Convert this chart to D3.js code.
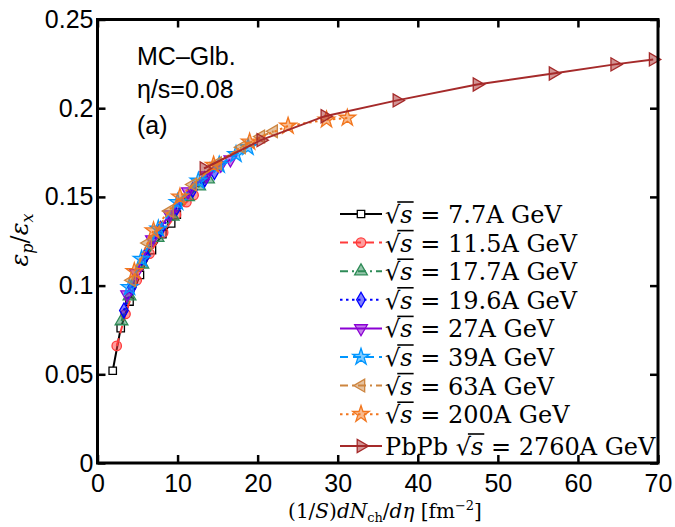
<!DOCTYPE html>
<html><head><meta charset="utf-8">
<script src="https://cdn.jsdelivr.net/npm/d3@7"></script>
<style>body{margin:0;background:#fff} svg{display:block}</style>
</head><body>
<svg id="c" width="675" height="527"></svg>
<script>
// ---------- data ----------
const xTicks = [0, 10, 20, 30, 40, 50, 60, 70];
const yTicks = [0, 0.05, 0.1, 0.15, 0.2, 0.25];
const yTickLabels = ["0", "0.05", "0.1", "0.15", "0.2", "0.25"];
const energies = ["7.7", "11.5", "17.7", "19.6", "27", "39", "63", "200", "2760"];

const x7p7  = [1.9, 2.9, 4.0, 5.3, 6.8, 8.1, 9.2, 9.9];
const y7p7  = [0.052, 0.076, 0.091, 0.106, 0.120, 0.129, 0.135, 0.140];
const x11p5 = [2.4, 3.5, 4.9, 6.5, 8.2, 9.8, 11.1, 12.0];
const y11p5 = [0.066, 0.084, 0.103, 0.118, 0.130, 0.140, 0.147, 0.151];
const x17p7 = [3.0, 4.0, 5.6, 7.5, 9.4, 11.3, 12.7, 13.8];
const y17p7 = [0.080, 0.094, 0.112, 0.127, 0.139, 0.150, 0.156, 0.160];
const x19p6 = [3.3, 4.3, 6.0, 7.9, 9.9, 11.9, 13.4, 14.6];
const y19p6 = [0.086, 0.099, 0.117, 0.132, 0.144, 0.154, 0.160, 0.164];
const x27   = [3.7, 4.8, 6.8, 9.0, 11.3, 13.6, 15.4, 16.6];
const y27   = [0.095, 0.107, 0.126, 0.140, 0.153, 0.162, 0.168, 0.171];
const x39   = [4.0, 5.5, 7.6, 10.0, 12.6, 15.2, 17.3, 18.8];
const y39   = [0.099, 0.115, 0.132, 0.147, 0.159, 0.168, 0.174, 0.178];
const x63   = [4.3, 6.3, 9.0, 11.9, 15.0, 18.0, 20.4, 22.0];
const y63   = [0.103, 0.124, 0.142, 0.157, 0.169, 0.178, 0.184, 0.187];
const x200  = [4.6, 7.0, 10.3, 14.5, 19.0, 23.8, 28.6, 31.2];
const y200  = [0.108, 0.131, 0.150, 0.168, 0.181, 0.190, 0.1935, 0.1945];
const xPbPb = [13.3, 20.4, 28.4, 37.4, 47.4, 56.9, 64.6, 69.4];
const yPbPb = [0.166, 0.182, 0.1955, 0.2044, 0.2134, 0.2196, 0.2247, 0.2275];

const seriesX = [x7p7, x11p5, x17p7, x19p6, x27, x39, x63, x200, xPbPb];
const seriesY = [y7p7, y11p5, y17p7, y19p6, y27, y39, y63, y200, yPbPb];

// ---------- styles ----------
const colors = ["#000000", "#ff3b3b", "#2e8b57", "#0000ff", "#8a00d4", "#0096ff", "#cd853f", "#f2761e", "#a52a2a"];
const dashes = [null, "8,5", "8,4,2,4", "2.5,3.5", null, "8,5", "8,4,2,4", "2.5,3.5", null];
const symbols = [
  {t: d3.symbolSquare, r: 0, s: 55},
  {t: d3.symbolCircle, r: 0, s: 70},
  {t: d3.symbolTriangle, r: 0, s: 70},
  {t: d3.symbolDiamond, r: 0, s: 65},
  {t: d3.symbolTriangle, r: 180, s: 70},
  {t: d3.symbolStar, r: 0, s: 85},
  {t: d3.symbolTriangle, r: -90, s: 70},
  {t: d3.symbolStar, r: 0, s: 85},
  {t: d3.symbolTriangle, r: 90, s: 75}
];

const svg = d3.select("#c");
const x = d3.scaleLinear().domain([0, 70]).range([97.5, 658]);
const y = d3.scaleLinear().domain([0, 0.25]).range([463, 19.5]);
const sans = "'Liberation Sans', Arial, sans-serif";
const serif = "'DejaVu Serif', serif";

// ---------- axes ----------
const gx = svg.append("g").attr("transform", `translate(0,${y(0)})`)
  .call(d3.axisBottom(x).tickValues(xTicks).tickSize(-8).tickSizeOuter(0).tickPadding(11).tickFormat(d3.format("d")));
const gxt = svg.append("g").attr("transform", `translate(0,${y(0.25)})`)
  .call(d3.axisTop(x).tickValues(xTicks).tickSize(-8).tickSizeOuter(0).tickFormat(""));
const gy = svg.append("g").attr("transform", `translate(${x(0)},0)`)
  .call(d3.axisLeft(y).tickValues(yTicks).tickSize(-8).tickSizeOuter(0).tickPadding(4).tickFormat((d, i) => yTickLabels[i]));
const gyr = svg.append("g").attr("transform", `translate(${x(70)},0)`)
  .call(d3.axisRight(y).tickValues(yTicks).tickSize(-8).tickSizeOuter(0).tickFormat(""));
[gx, gxt, gy, gyr].forEach(g => {
  g.select(".domain").remove();
  g.selectAll(".tick line").attr("stroke", "#000").attr("stroke-width", 2.5);
  g.selectAll("text").attr("font-family", sans).attr("font-size", 25).attr("fill", "#000");
});

// ---------- series ----------
const line = d3.line().x(d => x(d[0])).y(d => y(d[1]));
const symPath = (i) => d3.symbol().type(symbols[i].t).size(symbols[i].s)();
const plot = svg.append("g");
seriesX.forEach((xs, i) => {
  const pts = xs.map((v, k) => [v, seriesY[i][k]]);
  const g = plot.append("g");
  g.append("path").attr("d", line(pts)).attr("fill", "none")
    .attr("stroke", colors[i]).attr("stroke-width", 2)
    .attr("stroke-dasharray", dashes[i]);
  g.selectAll("path.m").data(pts).join("path").attr("class", "m")
    .attr("d", symPath(i))
    .attr("transform", d => `translate(${x(d[0])},${y(d[1])}) rotate(${symbols[i].r})`)
    .attr("fill", i === 0 ? "#fff" : colors[i]).attr("fill-opacity", i === 0 ? 1 : 0.5)
    .attr("stroke", colors[i]).attr("stroke-width", 1.3);
});

// ---------- frame ----------
svg.append("rect").attr("x", x(0)).attr("y", y(0.25))
  .attr("width", x(70) - x(0)).attr("height", y(0) - y(0.25))
  .attr("fill", "none").attr("stroke", "#000").attr("stroke-width", 3);

// ---------- annotations ----------
const ann = [["MC–Glb.", 65], ["η/s=0.08", 98], ["(a)", 134]];
ann.forEach(a => svg.append("text").attr("x", 137).attr("y", a[1])
  .attr("font-family", sans).attr("font-size", 25).text(a[0]));

// ---------- legend ----------
const rows = [214, 242.6, 271.2, 299.8, 328.4, 357, 385.6, 414.2, 446];
const lg = svg.append("g");
energies.forEach((e, i) => {
  const cy = rows[i];
  lg.append("line").attr("x1", 340).attr("x2", 382).attr("y1", cy).attr("y2", cy)
    .attr("stroke", colors[i]).attr("stroke-width", 2).attr("stroke-dasharray", dashes[i]);
  lg.append("path").attr("d", symPath(i))
    .attr("transform", `translate(361,${cy}) rotate(${symbols[i].r})`)
    .attr("fill", i === 0 ? "#fff" : colors[i]).attr("fill-opacity", i === 0 ? 1 : 0.5)
    .attr("stroke", colors[i]).attr("stroke-width", 1.3);
  const t = lg.append("text").attr("x", 385).attr("y", cy + 9)
    .attr("font-family", serif).attr("font-size", 24).attr("fill", "#000");
  const pre = i === 8 ? "PbPb " : "";
  if (pre) t.append("tspan").text(pre);
  t.append("tspan").text("√");
  t.append("tspan").attr("font-style", "italic").text("s");
  t.append("tspan").text(" = " + e + "A GeV");
  const node = t.node();
  const ir = pre.length, is = pre.length + 1;
  const er = node.getExtentOfChar(ir), es = node.getExtentOfChar(is);
  lg.append("line").attr("x1", er.x + er.width * 0.8).attr("x2", es.x + es.width + 1)
    .attr("y1", cy - 12).attr("y2", cy - 12).attr("stroke", "#000").attr("stroke-width", 1.6);
});

// ---------- axis titles ----------
const xt = svg.append("text").attr("x", 385).attr("y", 518).attr("text-anchor", "middle")
  .attr("font-family", serif).attr("font-size", 20).attr("fill", "#000");
xt.append("tspan").text("(1/");
xt.append("tspan").attr("font-style", "italic").text("S");
xt.append("tspan").text(")");
xt.append("tspan").attr("font-style", "italic").text("dN");
xt.append("tspan").attr("font-size", 13).attr("dy", 4).text("ch");
xt.append("tspan").attr("dy", -4).text("/");
xt.append("tspan").attr("font-style", "italic").text("dη");
xt.append("tspan").text(" [fm");
xt.append("tspan").attr("font-size", 13).attr("dy", -8).text("−2");
xt.append("tspan").attr("dy", 8).text("]");

const yt = svg.append("text").attr("transform", "translate(28,240) rotate(-90)")
  .attr("text-anchor", "middle").attr("font-family", serif).attr("font-size", 24).attr("fill", "#000");
yt.append("tspan").attr("font-style", "italic").text("ε");
yt.append("tspan").attr("font-style", "italic").attr("font-size", 16).attr("dy", 5).text("p");
yt.append("tspan").attr("dy", -5).text("/");
yt.append("tspan").attr("font-style", "italic").text("ε");
yt.append("tspan").attr("font-style", "italic").attr("font-size", 16).attr("dy", 5).text("x");
</script>
</body></html>
